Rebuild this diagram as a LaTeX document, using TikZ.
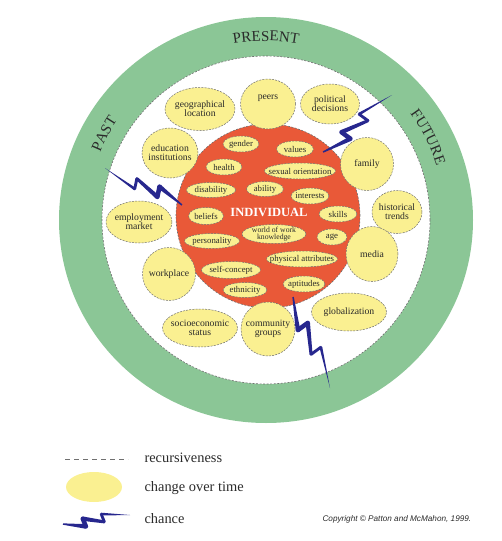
\documentclass[tikz,border=0pt]{standalone}
\usepackage{fontspec}
\setmainfont{Liberation Serif}
\newfontfamily\copyfont{Liberation Sans}
\usetikzlibrary{shapes.geometric, calc, decorations.text}

\definecolor{ringgreen}{HTML}{8BC696}
\definecolor{corered}{HTML}{E95938}
\definecolor{blobyellow}{HTML}{FAF091}
\definecolor{boltblue}{HTML}{27278E}
\definecolor{dashgray}{HTML}{707070}
\definecolor{inkgray}{HTML}{2A2A2A}

\newcommand\ringfont{\fontsize{15}{15}\selectfont}

% one tapered piece of a bolt, from #1 to #2, half widths #3 and #4
\newcommand\boltseg[4]{%
  \fill[boltblue] ($(#1)!#3!90:(#2)$) -- ($(#2)!#4!-90:(#1)$)
    -- ($(#2)!#4!90:(#1)$) -- ($(#1)!#3!-90:(#2)$) -- cycle;}

% chance bolt: #1 name, #2 tip, #3 angle, #4 scale
\newcommand\chancebolt[4]{%
  \begin{scope}[shift={#2}, rotate=#3, scale=#4]
    \coordinate (#1a) at (0,0);
    \coordinate (#1b) at (42,-7);
    \coordinate (#1c) at (39,5);
    \coordinate (#1d) at (70,-4);
    \coordinate (#1e) at (67,8);
    \coordinate (#1f) at (100,0);
  \end{scope}
  \boltseg{#1a}{#1b}{0pt}{1.4pt}
  \boltseg{#1b}{#1c}{1.4pt}{1.5pt}
  \boltseg{#1c}{#1d}{1.5pt}{2.2pt}
  \boltseg{#1d}{#1e}{2.2pt}{2.3pt}
  \boltseg{#1e}{#1f}{2.3pt}{0.7pt}
  \fill[boltblue] (#1b) circle[radius=1.4pt] (#1c) circle[radius=1.5pt]
    (#1d) circle[radius=2.2pt] (#1e) circle[radius=2.3pt];}

\begin{document}
\begin{tikzpicture}[
    x=1pt, y=1pt,
    blob/.style={ellipse, draw=dashgray, dash pattern=on 2pt off 1.2pt, line width=0.5pt,
      fill=blobyellow, inner xsep=-14pt, inner ysep=-4pt, align=center, text=inkgray,
      font=\fontsize{9.7}{9}\selectfont},
    trait/.style={blob, font=\fontsize{8.8}{8.8}\selectfont},
    ringtext/.style={decorate, decoration={text along path, text align=center}},
    legendtext/.style={anchor=base west, text=inkgray, font=\fontsize{14.4}{16}\selectfont}
    ]

\useasboundingbox (0,0) rectangle (501,-541);

% Rings
\coordinate (ctr) at (266,-220);
\coordinate (core) at (268,-216);
\fill[ringgreen] (ctr) ellipse[x radius=207pt, y radius=203pt];
\draw[fill=white, draw=dashgray, dash pattern=on 2pt off 1.5pt, line width=0.6pt] (ctr) circle[radius=164pt];
\draw[fill=corered, draw=dashgray, dash pattern=on 2pt off 1.5pt, line width=0.6pt] (core) circle[radius=92pt];

\path[ringtext, decoration={text={|\ringfont\color{inkgray}|PRESENT}}]
  ($(ctr)+(115:179pt)$) arc[start angle=115, end angle=65, radius=179pt];
\path[ringtext, decoration={text={|\ringfont\color{inkgray}|PAST}}]
  ($(ctr)+(177:179pt)$) arc[start angle=177, end angle=127, radius=179pt];
\path[ringtext, decoration={text={|\ringfont\color{inkgray}|FUTURE}}]
  ($(ctr)+(52:179pt)$) arc[start angle=52, end angle=2, radius=179pt];

% Context
\node[blob, minimum width=70pt, minimum height=43pt] (geo) at (200,-109) {geographical\\location};
\node[blob, minimum width=55pt, minimum height=50pt] (peers) at (268,-104) {peers\\[5pt]};
\node[blob, minimum width=59pt, minimum height=40pt] (politics) at (330,-104) {political\\decisions};
\node[blob, minimum width=56pt, minimum height=50pt] (educ) at (170,-153) {education\\institutions};
\node[blob, minimum width=53pt, minimum height=53pt] (family) at (367,-164) {family};
\node[blob, minimum width=50pt, minimum height=43pt] (history) at (397,-212) {historical\\trends};
\node[blob, minimum width=66pt, minimum height=42pt] (employ) at (139,-222) {employment\\market};
\node[blob, minimum width=52pt, minimum height=55pt] (media) at (372,-254) {media};
\node[blob, minimum width=53pt, minimum height=53pt] (workplace) at (169,-274) {workplace};
\node[blob, minimum width=75pt, minimum height=38pt] (socio) at (200,-328) {socioeconomic\\status};
\node[blob, minimum width=54pt, minimum height=54pt] (community) at (268,-329) {community\\groups};
\node[blob, minimum width=75pt, minimum height=38pt] (global) at (349,-312) {globalization};

% Individual
\node[trait, minimum width=36pt, minimum height=16pt] (gender) at (241,-144) {gender};
\node[trait, minimum width=37pt, minimum height=16pt] (values) at (295,-149) {values};
\node[trait, minimum width=36pt, minimum height=16pt] (health) at (224,-167) {health};
\node[trait, minimum width=71pt, minimum height=16pt] (sexor) at (300,-171) {sexual orientation};
\node[trait, minimum width=49pt, minimum height=15pt] (disab) at (211,-190) {disability};
\node[trait, minimum width=37pt, minimum height=15pt] (ability) at (265,-189) {ability};
\node[trait, minimum width=38pt, minimum height=16pt] (interests) at (310,-196) {interests};
\node[trait, minimum width=35pt, minimum height=17pt] (beliefs) at (206,-216) {beliefs};
\node[trait, minimum width=38pt, minimum height=16pt] (skills) at (338,-214) {skills};
\node[trait, minimum width=64pt, minimum height=19pt, font=\fontsize{7.7}{7}\selectfont] (worldwork) at (274,-234) {world of work\\knowledge};
\node[trait, minimum width=30pt, minimum height=16pt] (age) at (332,-237) {age};
\node[trait, minimum width=55pt, minimum height=15pt] (personality) at (212,-241) {personality};
\node[trait, minimum width=71pt, minimum height=16pt] (physical) at (302,-259) {physical attributes};
\node[trait, minimum width=59pt, minimum height=17pt] (selfcon) at (231,-270) {self-concept};
\node[trait, minimum width=42pt, minimum height=16pt] (aptitudes) at (304,-284) {aptitudes};
\node[trait, minimum width=44pt, minimum height=15pt] (ethnicity) at (245,-290) {ethnicity};
\node[text=white, font=\fontsize{12.5}{12.5}\selectfont\bfseries] (indiv) at (269,-212) {INDIVIDUAL};

% Chance
\chancebolt{bleft}{(105,-168)}{-25.7}{0.854}
\chancebolt{btop}{(392,-95)}{-140.4}{0.895}
\chancebolt{bdown}{(330,-388)}{112.1}{0.982}

% Legend
\coordinate (recA) at (65,-459);
\coordinate (recB) at (128,-459);
\draw[dashgray, line width=0.9pt, dash pattern=on 5pt off 4pt] (recA) -- (recB);
\node[ellipse, fill=blobyellow, minimum width=56pt, minimum height=30pt] (lgblob) at (94,-487) {};
\chancebolt{blegend}{(130,-515)}{187.7}{0.676}
\node[legendtext] (lgrec) at (141,-462) {recursiveness};
\node[legendtext] (lgtime) at (141,-491) {change over time};
\node[legendtext] (lgchance) at (141,-523) {chance};
\node[anchor=base west, text=inkgray, font=\copyfont\itshape\fontsize{8.2}{9}\selectfont] (copy) at (319,-521.7) {Copyright © Patton and McMahon, 1999.};

\end{tikzpicture}
\end{document}
